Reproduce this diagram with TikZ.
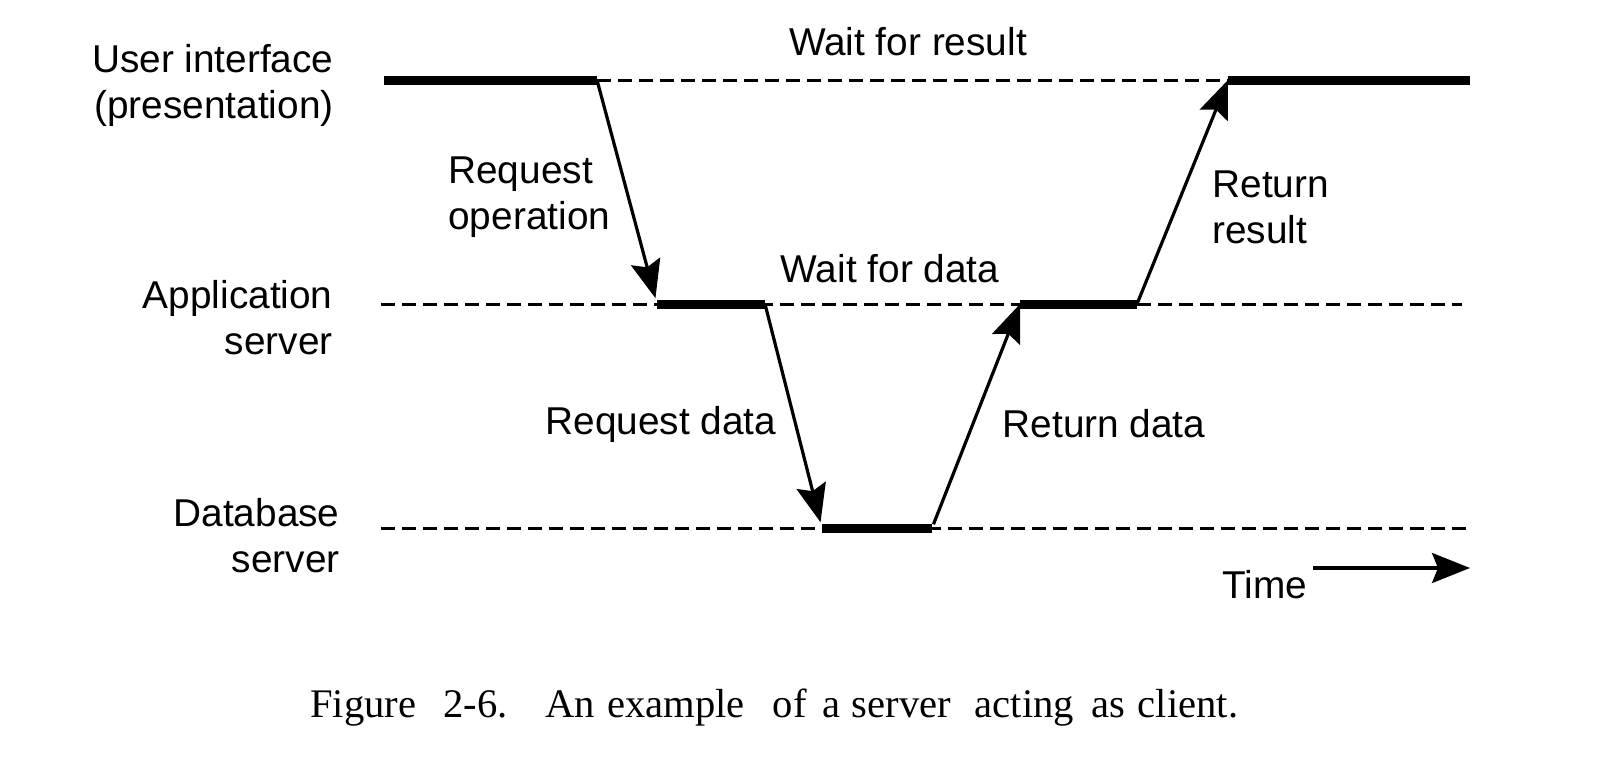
\documentclass[tikz,border=0pt]{standalone}
\usepackage{fontspec}
\setmainfont{Liberation Sans}
\newfontfamily\capfont{Liberation Serif}
\usetikzlibrary{arrows.meta}
\begin{document}
\begin{tikzpicture}[x=0.5pt,y=-0.5pt,
  lbl/.style={font=\fontsize{19.4}{23}\selectfont, inner sep=0pt},
  lane/.style={line width=1.5pt, dash pattern=on 7pt off 3.5pt},
  busy/.style={line width=4.5pt},
  msg/.style={line width=1.6pt, -{Stealth[length=19pt,width=15pt,inset=3pt]}},
]
\useasboundingbox (0,0) rectangle (1606,766);
% coordinates of the time lines
\coordinate (u0) at (384,80);
\coordinate (u1) at (597,80);
\coordinate (u2) at (1228,80);
\coordinate (u3) at (1470,80);
\coordinate (a0) at (381,304);
\coordinate (a1) at (657,304);
\coordinate (a2) at (765,304);
\coordinate (a3) at (1020,304);
\coordinate (a4) at (1137,304);
\coordinate (a5) at (1462,304);
\coordinate (d0) at (381,528);
\coordinate (d1) at (822,528);
\coordinate (d2) at (932,528);
\coordinate (d3) at (1470,528);
\coordinate (t0) at (1313,568);
\coordinate (t1) at (1470,568);
% dashed lanes
\draw[lane] (u1) -- (u2);
\draw[lane] (a0) -- (a5);
\draw[lane] (d0) -- (d3);
% busy segments
\draw[busy] (u0) -- (u1);
\draw[busy] (u2) -- (u3);
\draw[busy] (a1) -- (a2);
\draw[busy] (a3) -- (a4);
\draw[busy] (d1) -- (d2);
% messages
\draw[msg, shorten >=3pt] (u1) -- (a1);
\draw[msg, shorten >=3pt] (a2) -- (d1);
\draw[msg, shorten <=2pt] (d2) -- (a3);
\draw[msg] (a4) -- (u2);
\draw[msg] (t0) -- (t1);
% labels
\node[lbl, align=right, anchor=east] (ui) at (334,85) {User interface\\(presentation)};
\node[lbl, align=right, anchor=east] (app) at (333,318) {Application\\server};
\node[lbl, align=right, anchor=east] (db) at (340,536) {Database\\server};
\node[lbl] (wres) at (908,42) {Wait for result};
\node[lbl, align=left, anchor=west] (reqop) at (448,197) {Request\\operation};
\node[lbl] (wdat) at (890,269) {Wait for data};
\node[lbl] (reqd) at (661,424) {Request data};
\node[lbl] (retd) at (1104,424) {Return data};
\node[lbl, align=left, anchor=west] (retr) at (1212,207) {Return\\result};
\node[lbl] (time) at (1265,585) {Time};
\node[inner sep=0pt, anchor=base west, font=\capfont\fontsize{20.3}{24}\selectfont] (cap) at (310,717)
  {Figure\hspace{13.5pt}2-6.\hspace{19pt}An\hspace{6pt}example\hspace{14pt}of\hspace{8pt}a\hspace{5.5pt}server\hspace{12pt}acting\hspace{8.5pt}as\hspace{6.5pt}client.};
\end{tikzpicture}
\end{document}
